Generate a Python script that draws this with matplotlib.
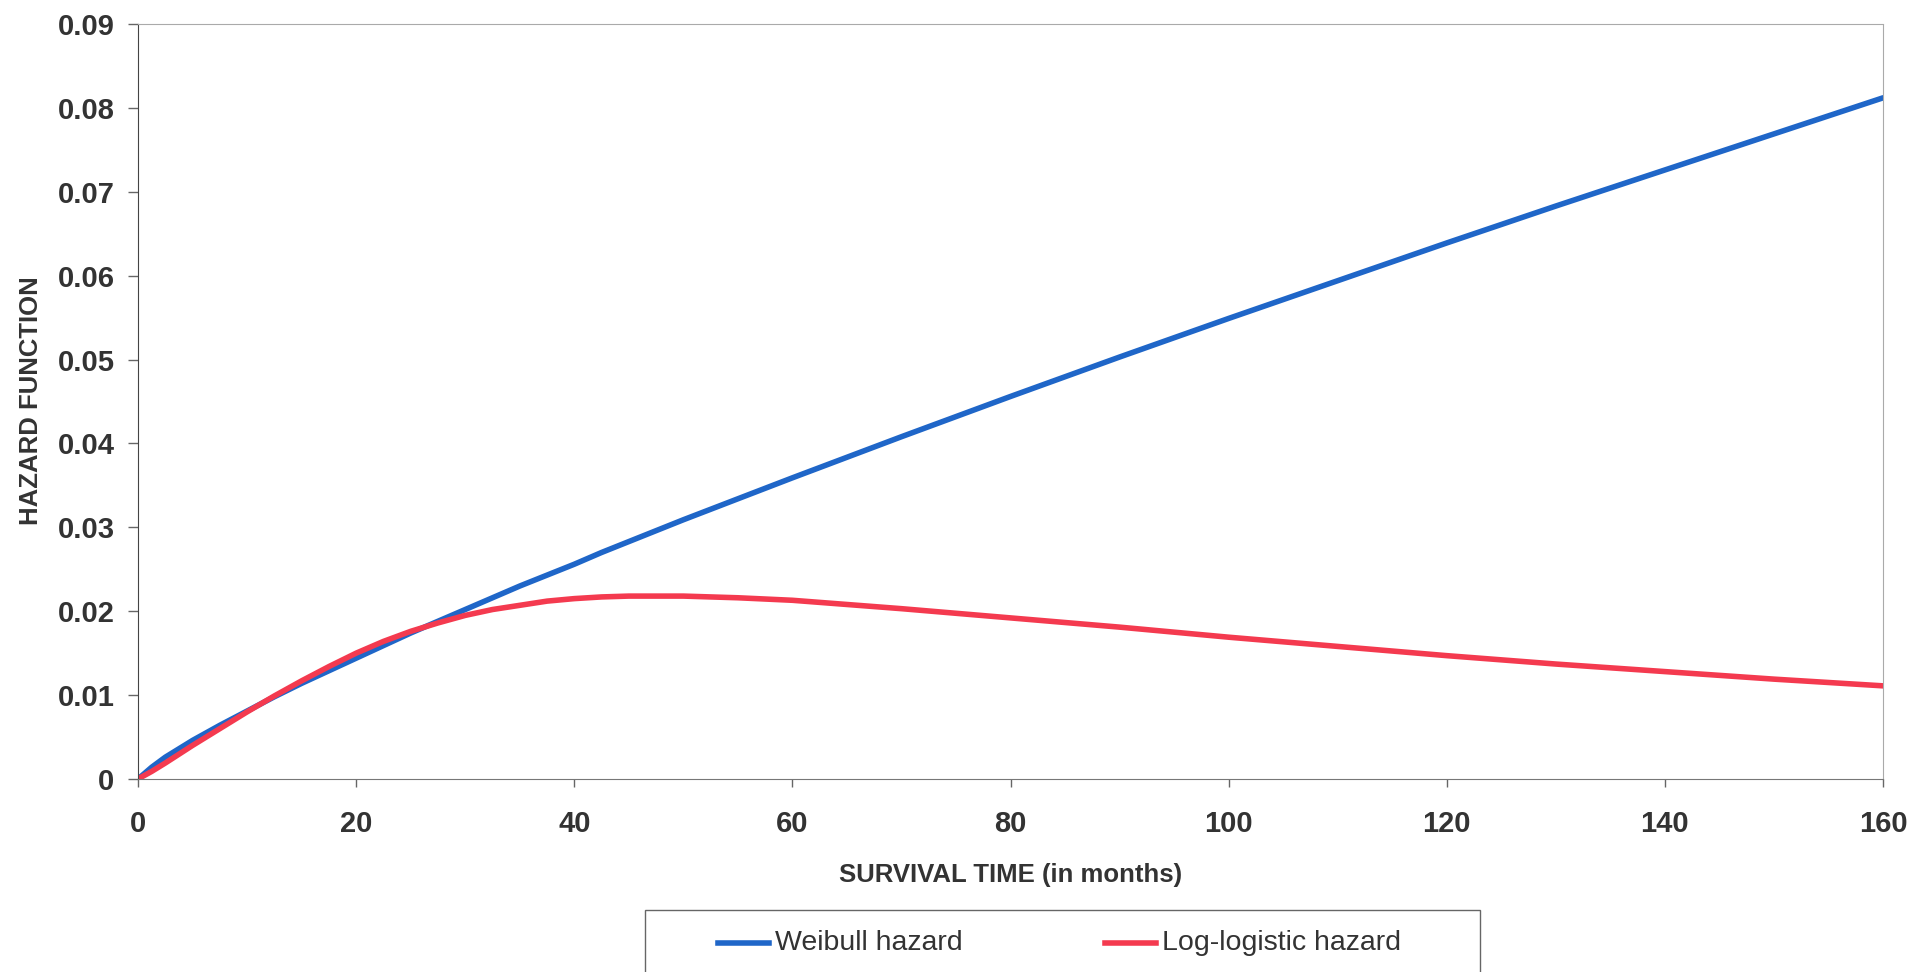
import matplotlib
matplotlib.use("Agg")
from matplotlib import pyplot as plt
from matplotlib.ticker import FuncFormatter
from matplotlib.patches import Rectangle
from matplotlib.lines import Line2D

# values
wb_months = [0, 1.25, 2.5, 5, 7.5, 10, 12.5, 15, 17.5, 20, 22.5, 25, 27.5, 30,
             32.5, 35, 37.5, 40, 42.5, 45, 47.5, 50, 60, 70, 80, 90, 100, 110,
             120, 130, 140, 150, 160]
weibull = [0, 0.0014, 0.0026, 0.0046, 0.0064, 0.0081, 0.0098, 0.0114, 0.0129,
           0.0144, 0.0159, 0.0174, 0.0188, 0.0202, 0.0216, 0.0230, 0.0243,
           0.0256, 0.0270, 0.0283, 0.0296, 0.0309, 0.0359, 0.0408, 0.0456,
           0.0503, 0.0549, 0.0594, 0.0639, 0.0683, 0.0726, 0.0769, 0.0812]
ll_months = [0, 1.25, 2.5, 5, 7.5, 10, 12.5, 15, 17.5, 20, 22.5, 25, 27.5, 30,
             32.5, 35, 37.5, 40, 42.5, 45, 47.5, 50, 55, 60, 70, 80, 90, 100,
             110, 120, 130, 140, 150, 160]
loglogistic = [0, 0.0009, 0.0019, 0.0040, 0.0060, 0.0080, 0.0099, 0.0117,
               0.0134, 0.0150, 0.0164, 0.0176, 0.0186, 0.0195, 0.0202, 0.0207,
               0.0212, 0.0215, 0.0217, 0.0218, 0.0218, 0.0218, 0.0216, 0.0213,
               0.0203, 0.0192, 0.0181, 0.0169, 0.0158, 0.0147, 0.0137, 0.0128,
               0.0119, 0.0111]
xticks = [0, 20, 40, 60, 80, 100, 120, 140, 160]
yticks = [0, 0.01, 0.02, 0.03, 0.04, 0.05, 0.06, 0.07, 0.08, 0.09]
names = ['Weibull hazard', 'Log-logistic hazard']
colors = ['#1f66c8', '#f43a4f']

txt = '#333333'
plt.rcParams['font.family'] = ['Liberation Sans', 'DejaVu Sans']

W, H = 1915, 972
fig = plt.figure(figsize=(W / 100, H / 100), dpi=100)
ax = fig.add_axes([0.0721, 0.1986, 0.9112, 0.7767])

ax.plot(wb_months, weibull, color=colors[0], lw=4, solid_capstyle='round',
        solid_joinstyle='round')
ax.plot(ll_months, loglogistic, color=colors[1], lw=4, solid_capstyle='round',
        solid_joinstyle='round')

ax.set_xlim(0, 160)
ax.set_ylim(0, 0.09)
ax.set_xticks(xticks)
ax.set_yticks(yticks)
ax.yaxis.set_major_formatter(FuncFormatter(lambda v, p: '0' if v == 0 else '%.2f' % v))

for lab in ax.get_xticklabels() + ax.get_yticklabels():
    lab.set_fontweight('bold')
ax.tick_params(axis='y', length=7, width=1, color='#666666', labelsize=21,
               labelcolor=txt, pad=10)
ax.tick_params(axis='x', length=6, width=1, color='#666666', labelsize=21,
               labelcolor=txt, pad=16)

ax.spines['left'].set_color('#444444')
ax.spines['bottom'].set_color('#777777')
for s in ['top', 'right']:
    ax.spines[s].set_color('#aaaaaa')
    ax.spines[s].set_linestyle((0, (1, 1)))

ax.set_xlabel('SURVIVAL TIME (in months)', fontsize=18.5, fontweight='bold',
              color=txt, labelpad=18)
fig.text(0.016, 0.588, 'HAZARD FUNCTION', rotation=90, fontsize=18.5,
         fontweight='bold', color=txt, ha='center', va='center')

# legend box, cut by the bottom edge like in the scan
fig.patches.append(Rectangle((645 / W, 1 - 990 / H), 835 / W, 80 / H,
                             transform=fig.transFigure, fill=False,
                             edgecolor='#666666', lw=1))
ly = 1 - 943 / H
for x0, name, c in zip([718, 1105], names, colors):
    fig.lines.append(Line2D([x0 / W, (x0 + 51) / W], [ly, ly], color=c, lw=4,
                            transform=fig.transFigure))
    fig.text((x0 + 57) / W, ly, name, fontsize=20.5, color=txt,
             ha='left', va='center')

fig.savefig('out.png', dpi=100)
